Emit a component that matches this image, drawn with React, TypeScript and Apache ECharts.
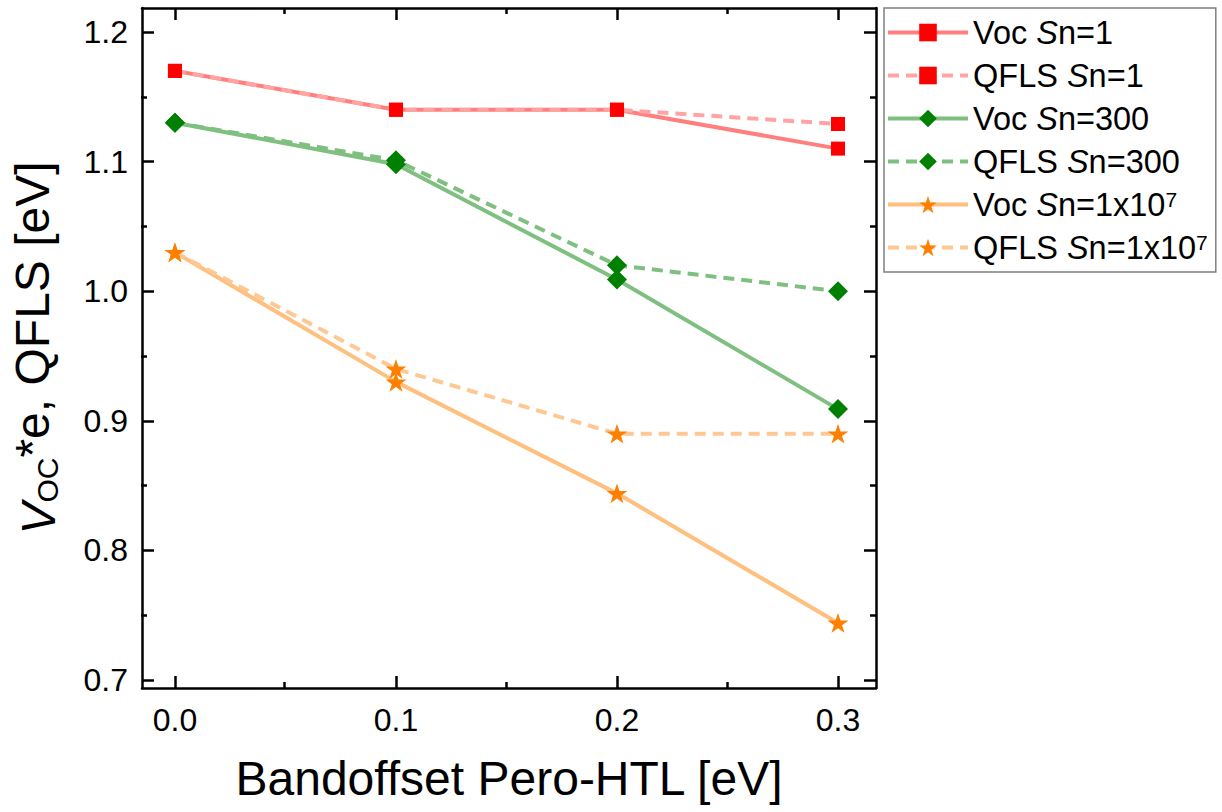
import React, { useEffect, useRef } from 'react';
import * as echarts from 'echarts';

const bandOffset = [0.0, 0.1, 0.2, 0.3];
const vocSn1 = [1.17, 1.14, 1.14, 1.11];
const qflsSn1 = [1.17, 1.14, 1.14, 1.129];
const vocSn300 = [1.13, 1.098, 1.009, 0.909];
const qflsSn300 = [1.13, 1.101, 1.02, 1.0];
const vocSn1e7 = [1.03, 0.93, 0.844, 0.744];
const qflsSn1e7 = [1.03, 0.94, 0.89, 0.89];

const yTicks = [0.7, 0.8, 0.9, 1.0, 1.1, 1.2];
const yMinorTicks = [0.75, 0.85, 0.95, 1.05, 1.15];
const xTicks = [0.0, 0.1, 0.2, 0.3];
const xMinorTicks = [0.05, 0.15, 0.25];

const seriesNames = ['Voc Sn=1', 'QFLS Sn=1', 'Voc Sn=300', 'QFLS Sn=300', 'Voc Sn=1x10^7', 'QFLS Sn=1x10^7'];
const legendRich: Record<string, string> = {
  'Voc Sn=1': '{n|Voc }{i|S}{n|n=1}',
  'QFLS Sn=1': '{n|QFLS }{i|S}{n|n=1}',
  'Voc Sn=300': '{n|Voc }{i|S}{n|n=300}',
  'QFLS Sn=300': '{n|QFLS }{i|S}{n|n=300}',
  'Voc Sn=1x10^7': '{n|Voc }{i|S}{n|n=1x10}{sup|7}',
  'QFLS Sn=1x10^7': '{n|QFLS }{i|S}{n|n=1x10}{sup|7}',
};

const FONT = '"Liberation Sans", Arial, Helvetica, sans-serif';
const STAR = 'path://M50,0 L61.8,35.1 L98.9,35.1 L68.9,56.8 L80.3,91.9 L50,70.2 L19.7,91.9 L31.1,56.8 L1.1,35.1 L38.2,35.1 Z';

const X_MIN = -0.0149;
const X_MAX = 0.3172;
const Y_MIN = 0.6938;
const Y_MAX = 1.2185;

function pairs(vals: number[]) {
  return bandOffset.map((x, i) => [x, vals[i]]);
}

export default function App() {
  const ref = useRef<HTMLDivElement>(null);
  useEffect(() => {
    if (!ref.current) return;
    const chart = echarts.init(ref.current, undefined, { renderer: 'svg' });
    const axisLine = { show: true, onZero: false, lineStyle: { color: '#000', width: 2.5 } };
    const hiddenLine = { show: false, onZero: false };
    const gridRect = { left: 141, top: 8, width: 735, height: 680 };
    const tickStyle = { color: '#000', width: 2.5 };

    const majorX = (pos: string, withLabels: boolean, gridIndex: number) => ({
      type: 'value', gridIndex, position: pos, min: X_MIN, max: X_MAX,
      axisLine, splitLine: { show: false },
      axisTick: { show: true, inside: true, length: 12, customValues: xTicks, lineStyle: tickStyle },
      axisLabel: withLabels
        ? { show: true, customValues: xTicks, formatter: (v: number) => v.toFixed(1), fontSize: 32, fontFamily: FONT, color: '#000', margin: 16 }
        : { show: false },
    });
    const minorX = (pos: string, gridIndex: number) => ({
      type: 'value', gridIndex, position: pos, min: X_MIN, max: X_MAX,
      axisLine: hiddenLine, splitLine: { show: false },
      axisTick: { show: true, inside: true, length: 6, customValues: xMinorTicks, lineStyle: tickStyle },
      axisLabel: { show: false },
    });
    const majorY = (pos: string, withLabels: boolean, gridIndex: number) => ({
      type: 'value', gridIndex, position: pos, min: Y_MIN, max: Y_MAX,
      axisLine, splitLine: { show: false },
      axisTick: { show: true, inside: true, length: 12, customValues: yTicks, lineStyle: tickStyle },
      axisLabel: withLabels
        ? { show: true, customValues: yTicks, formatter: (v: number) => v.toFixed(1), fontSize: 32, fontFamily: FONT, color: '#000', margin: 14 }
        : { show: false },
    });
    const minorY = (pos: string, gridIndex: number) => ({
      type: 'value', gridIndex, position: pos, min: Y_MIN, max: Y_MAX,
      axisLine: hiddenLine, splitLine: { show: false },
      axisTick: { show: true, inside: true, length: 6, customValues: yMinorTicks, lineStyle: tickStyle },
      axisLabel: { show: false },
    });

    const xMain: any = majorX('bottom', true, 0);
    xMain.name = 'Bandoffset Pero-HTL [eV]';
    xMain.nameLocation = 'middle';
    xMain.nameGap = 66;
    xMain.nameTextStyle = { fontSize: 48, fontFamily: FONT, color: '#000' };

    const yMain: any = majorY('left', true, 0);
    yMain.name = '{i|V}{sub|OC}{n|*e, QFLS [eV]}';
    yMain.nameLocation = 'middle';
    yMain.nameGap = 80;
    yMain.nameRotate = 90;
    yMain.nameTextStyle = {
      fontSize: 48, fontFamily: FONT, color: '#000',
      rich: {
        i: { fontSize: 48, fontStyle: 'italic', fontFamily: FONT, color: '#000', lineHeight: 60, verticalAlign: 'bottom' },
        sub: { fontSize: 30, fontFamily: FONT, color: '#000', lineHeight: 60, verticalAlign: 'bottom' },
        n: { fontSize: 48, fontFamily: FONT, color: '#000', lineHeight: 60, verticalAlign: 'middle' },
      },
    };

    const makeSeries = (name: string, vals: number[], lineColor: string, markColor: string, symbol: string, size: number, dashed: boolean) => ({
      name, type: 'line', xAxisIndex: 0, yAxisIndex: 0,
      data: pairs(vals),
      symbol, symbolSize: size, symbolKeepAspect: true, showSymbol: true,
      lineStyle: { color: lineColor, width: 4, type: dashed ? [11, 7] : 'solid' },
      itemStyle: { color: markColor, borderWidth: 0 },
      emphasis: { disabled: true },
      z: 3,
    });

    chart.setOption({
      animation: false,
      backgroundColor: '#fff',
      grid: [
        { ...gridRect, containLabel: false },
        { ...gridRect, containLabel: false },
      ],
      xAxis: [xMain, majorX('top', false, 0), minorX('bottom', 1), minorX('top', 1)],
      yAxis: [yMain, majorY('right', false, 0), minorY('left', 1), minorY('right', 1)],
      legend: {
        orient: 'vertical', left: 884, top: 8,
        padding: [8, 8, 8, 2],
        itemWidth: 80, itemHeight: 22, itemGap: 10,
        borderColor: '#7f7f7f', borderWidth: 1.5,
        lineStyle: { width: 4 },
        data: seriesNames,
        formatter: (name: string) => legendRich[name],
        textStyle: {
          fontSize: 32.5, fontFamily: FONT, color: '#000',
          rich: {
            n: { fontSize: 32.5, fontFamily: FONT, color: '#000', lineHeight: 32 },
            i: { fontSize: 32.5, fontStyle: 'italic', fontFamily: FONT, color: '#000', lineHeight: 32 },
            sup: { fontSize: 21, fontFamily: FONT, color: '#000', lineHeight: 32, verticalAlign: 'top' },
          },
        },
      },
      series: [
        makeSeries(seriesNames[0], vocSn1, '#ff7f7f', '#ff0000', 'rect', 14, false),
        makeSeries(seriesNames[1], qflsSn1, '#ffa3a3', '#ff0000', 'rect', 14, true),
        makeSeries(seriesNames[2], vocSn300, '#7fbf7f', '#008000', 'diamond', 20, false),
        makeSeries(seriesNames[3], qflsSn300, '#7fbf7f', '#008000', 'diamond', 20, true),
        makeSeries(seriesNames[4], vocSn1e7, '#ffbf7f', '#ff8000', STAR, 21, false),
        makeSeries(seriesNames[5], qflsSn1e7, '#ffc893', '#ff8000', STAR, 21, true),
      ],
    });
    return () => chart.dispose();
  }, []);
  return <div ref={ref} style={{ position: 'fixed', left: 0, top: 0, width: 1222, height: 812 }} />;
}
